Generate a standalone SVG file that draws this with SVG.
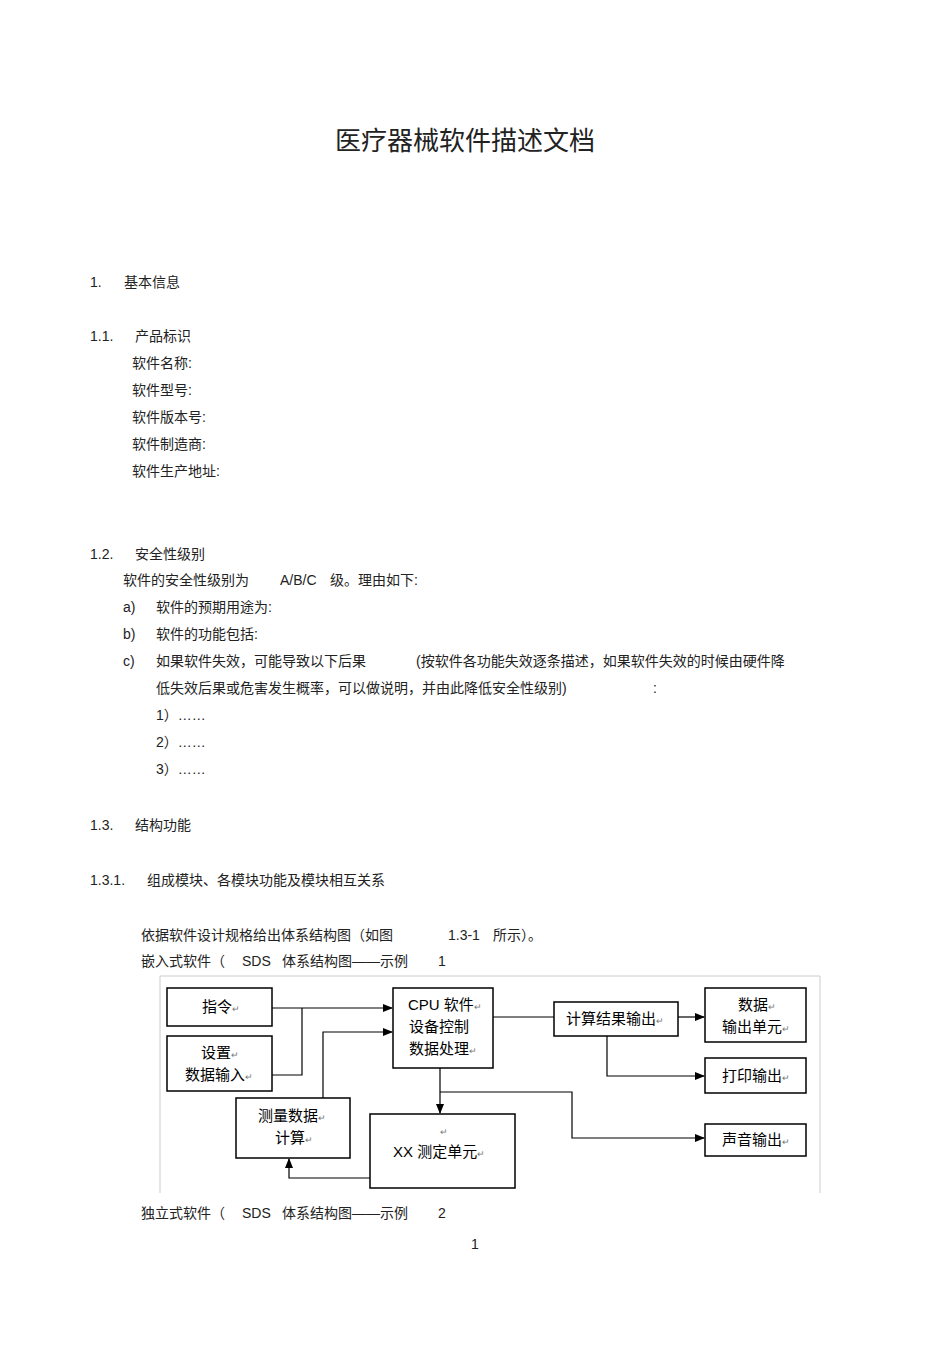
<svg xmlns="http://www.w3.org/2000/svg" width="950" height="1345" viewBox="0 0 950 1345">
<style>
text{font-family:"Liberation Sans","Noto Sans CJK SC",sans-serif;font-size:14px;fill:#222}
.t{font-size:26px}
.b{font-size:15px;fill:#000}
.box{fill:#fff;stroke:#000;stroke-width:1.5}
.ln{fill:none;stroke:#000;stroke-width:1.2}
.r{font-size:9px;fill:#777}
</style>
<defs><marker id="a" markerWidth="10" markerHeight="8" refX="9" refY="4" orient="auto" markerUnits="userSpaceOnUse"><path d="M0,0L10,4L0,8z" fill="#000"/></marker></defs>
<rect width="950" height="1345" fill="#fff"/>
<text class="t" x="465" y="150" text-anchor="middle">医疗器械软件描述文档</text>
<text x="90" y="287">1.</text><text x="124" y="287">基本信息</text>
<text x="90" y="341">1.1.</text><text x="135" y="341">产品标识</text>
<text x="132" y="368">软件名称:</text>
<text x="132" y="395">软件型号:</text>
<text x="132" y="422">软件版本号:</text>
<text x="132" y="449">软件制造商:</text>
<text x="132" y="476">软件生产地址:</text>
<text x="90" y="559">1.2.</text><text x="135" y="559">安全性级别</text>
<text x="123" y="585">软件的安全性级别为</text><text x="280" y="585">A/B/C</text><text x="330" y="585">级。理由如下:</text>
<text x="123" y="612">a)</text><text x="156" y="612">软件的预期用途为:</text>
<text x="123" y="639">b)</text><text x="156" y="639">软件的功能包括:</text>
<text x="123" y="666">c)</text><text x="156" y="666">如果软件失效，可能导致以下后果</text><text x="416" y="666">(按软件各功能失效逐条描述，如果软件失效的时候由硬件降</text>
<text x="156" y="693">低失效后果或危害发生概率，可以做说明，并由此降低安全性级别)</text><text x="653" y="693">:</text>
<text x="156" y="720">1）……</text>
<text x="156" y="747">2）……</text>
<text x="156" y="774">3）……</text>
<text x="90" y="830">1.3.</text><text x="135" y="830">结构功能</text>
<text x="90" y="885">1.3.1.</text><text x="147" y="885">组成模块、各模块功能及模块相互关系</text>
<text x="141" y="940">依据软件设计规格给出体系结构图（如图</text><text x="448" y="940">1.3-1</text><text x="493" y="940">所示）。</text>
<text x="141" y="966">嵌入式软件（</text><text x="242" y="966">SDS</text><text x="282" y="966">体系结构图——示例</text><text x="438" y="966">1</text>
<path d="M160,1193V976H820V1193" fill="none" stroke="#ccc" stroke-width="1"/>
<g id="connectors">
<path class="ln" d="M272,1008H392" marker-end="url(#a)"/>
<path class="ln" d="M272,1075H302V1008"/>
<path class="ln" d="M323,1098V1032H392" marker-end="url(#a)"/>
<path class="ln" d="M493,1017H554"/>
<path class="ln" d="M678,1017H704" marker-end="url(#a)"/>
<path class="ln" d="M607,1036V1076H704" marker-end="url(#a)"/>
<path class="ln" d="M440,1068V1113" stroke-width="2" marker-end="url(#a)"/>
<path class="ln" d="M440,1092H572V1138H704" stroke-width="1.6" marker-end="url(#a)"/>
<path class="ln" d="M370,1178H289V1159" marker-end="url(#a)"/>
</g>
<g id="n1"><rect class="box" x="167" y="988" width="105" height="38"/><text class="b" x="202" y="1012">指令<tspan class="r">↵</tspan></text></g>
<g id="n2"><rect class="box" x="167" y="1036" width="105" height="55"/><text class="b" x="201" y="1058">设置<tspan class="r">↵</tspan></text><text class="b" x="185" y="1080">数据输入<tspan class="r">↵</tspan></text></g>
<g id="n3"><rect class="box" x="393" y="988" width="100" height="80"/><text class="b" x="408" y="1010">CPU 软件<tspan class="r">↵</tspan></text><text class="b" x="409" y="1032">设备控制</text><text class="b" x="409" y="1054">数据处理<tspan class="r">↵</tspan></text></g>
<g id="n4"><rect class="box" x="554" y="1002" width="124" height="34"/><text class="b" x="566" y="1024">计算结果输出<tspan class="r">↵</tspan></text></g>
<g id="n5"><rect class="box" x="705" y="988" width="101" height="54"/><text class="b" x="738" y="1010">数据<tspan class="r">↵</tspan></text><text class="b" x="722" y="1032">输出单元<tspan class="r">↵</tspan></text></g>
<g id="n6"><rect class="box" x="705" y="1058" width="101" height="35"/><text class="b" x="722" y="1081">打印输出<tspan class="r">↵</tspan></text></g>
<g id="n7"><rect class="box" x="236" y="1098" width="114" height="60"/><text class="b" x="258" y="1121">测量数据<tspan class="r">↵</tspan></text><text class="b" x="275" y="1143">计算<tspan class="r">↵</tspan></text></g>
<g id="n8"><rect class="box" x="370" y="1114" width="145" height="74"/><text class="r" x="440" y="1135">↵</text><text class="b" x="393" y="1157">XX 测定单元<tspan class="r">↵</tspan></text></g>
<g id="n9"><rect class="box" x="705" y="1124" width="101" height="32"/><text class="b" x="722" y="1145">声音输出<tspan class="r">↵</tspan></text></g>
<text x="141" y="1218">独立式软件（</text><text x="242" y="1218">SDS</text><text x="282" y="1218">体系结构图——示例</text><text x="438" y="1218">2</text>
<text x="475" y="1249" text-anchor="middle" font-size="12">1</text>
</svg>
